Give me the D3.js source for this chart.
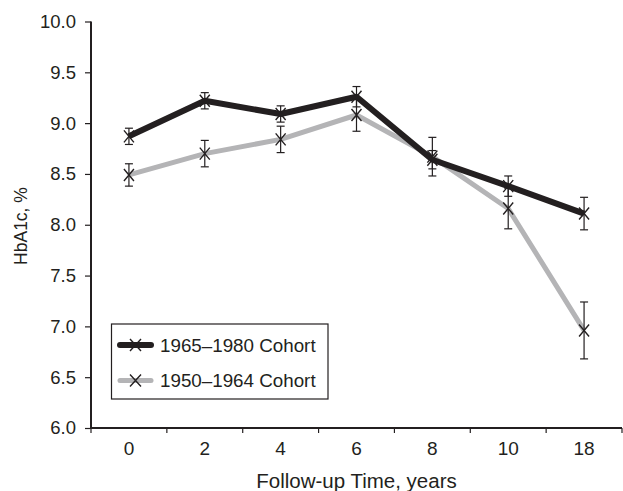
<!DOCTYPE html>
<html>
<head>
<meta charset="utf-8">
<script src="https://cdn.jsdelivr.net/npm/d3@7"></script>
<style>
  body { margin: 0; background: #fff; }
  text { font-family: "Liberation Sans", Arial, sans-serif; fill: #231f20; }
</style>
</head>
<body>
<div id="chart"></div>
<script>
var categories = ["0", "2", "4", "6", "8", "10", "18"];
var youngMean = [8.87, 9.22, 9.09, 9.26, 8.64, 8.38, 8.11];
var youngErr = [0.08, 0.08, 0.08, 0.10, 0.09, 0.10, 0.16];
var oldMean = [8.49, 8.70, 8.84, 9.08, 8.67, 8.16, 6.96];
var oldErr = [0.11, 0.13, 0.13, 0.16, 0.19, 0.20, 0.28];
var yTicks = [6.0, 6.5, 7.0, 7.5, 8.0, 8.5, 9.0, 9.5, 10.0];
var seriesNames = ["1965\u20131980 Cohort", "1950\u20131964 Cohort"];

var w = 623;
var h = 491;
var plotLeft = 91, plotRight = 622, plotTop = 21.5, plotBottom = 428;

var svg = d3.select("#chart").append("svg")
    .attr("width", w)
    .attr("height", h);

var x = d3.scaleBand().domain(categories).range([plotLeft, plotRight]);
var y = d3.scaleLinear().domain([6, 10]).range([plotBottom, plotTop]);

function cx(i) { return x(categories[i]) + x.bandwidth() / 2; }

// axes
var xAxis = svg.append("g")
    .attr("transform", "translate(0," + plotBottom + ")")
    .call(d3.axisBottom(x).tickSize(0).tickPadding(14));
xAxis.select(".domain").remove();
xAxis.selectAll("text").attr("font-size", "19px").attr("fill", "#231f20");
// ticks between categories
svg.append("g").selectAll("line")
    .data(categories.concat(["end"]))
    .enter().append("line")
    .attr("x1", function (d, i) { return plotLeft + i * x.bandwidth(); })
    .attr("x2", function (d, i) { return plotLeft + i * x.bandwidth(); })
    .attr("y1", plotBottom)
    .attr("y2", plotBottom + 5)
    .attr("stroke", "#231f20")
    .attr("stroke-width", 1.2);

var yAxis = svg.append("g")
    .attr("transform", "translate(" + plotLeft + ",0)")
    .call(d3.axisLeft(y).tickValues(yTicks).tickFormat(d3.format(".1f")).tickSize(6).tickPadding(9));
yAxis.select(".domain").remove();
yAxis.selectAll("line").attr("stroke", "#231f20").attr("stroke-width", 1.2);
yAxis.selectAll("text").attr("font-size", "18.5px").attr("fill", "#231f20");

svg.append("line")
    .attr("x1", plotLeft).attr("x2", plotLeft)
    .attr("y1", plotTop).attr("y2", plotBottom)
    .attr("stroke", "#231f20").attr("stroke-width", 2);
svg.append("line")
    .attr("x1", plotLeft).attr("x2", plotRight)
    .attr("y1", plotBottom).attr("y2", plotBottom)
    .attr("stroke", "#231f20").attr("stroke-width", 2);

svg.append("text")
    .attr("x", (plotLeft + plotRight) / 2)
    .attr("y", 488)
    .attr("text-anchor", "middle")
    .attr("font-size", "20.5px")
    .text("Follow-up Time, years");

svg.append("text")
    .attr("transform", "translate(27,226) rotate(-90)")
    .attr("text-anchor", "middle")
    .attr("font-size", "17.5px")
    .text("HbA1c, %");

var series = [
    { mean: youngMean, err: youngErr, color: "#231f20", width: 6 },
    { mean: oldMean, err: oldErr, color: "#b4b4b6", width: 5 }
];

var line = d3.line()
    .x(function (d, i) { return cx(i); })
    .y(function (d) { return y(d); });

// lines first, then error bars and markers
series.slice().reverse().forEach(function (s) {
    svg.append("path")
        .datum(s.mean)
        .attr("d", line)
        .attr("fill", "none")
        .attr("stroke", s.color)
        .attr("stroke-width", s.width)
        .attr("stroke-linejoin", "round");
});

series.forEach(function (s) {
    var g = svg.append("g").attr("stroke", "#231f20").attr("stroke-width", 1.2);
    s.mean.forEach(function (m, i) {
        var px = cx(i), hi = y(m + s.err[i]), lo = y(m - s.err[i]), py = y(m);
        g.append("line").attr("x1", px).attr("x2", px).attr("y1", hi).attr("y2", lo);
        g.append("line").attr("x1", px - 4).attr("x2", px + 4).attr("y1", hi).attr("y2", hi);
        g.append("line").attr("x1", px - 4).attr("x2", px + 4).attr("y1", lo).attr("y2", lo);
        g.append("path")
            .attr("d", "M" + (px - 5) + "," + (py - 6) + "L" + (px + 5) + "," + (py + 6) +
                "M" + (px + 5) + "," + (py - 6) + "L" + (px - 5) + "," + (py + 6))
            .attr("stroke-width", 1.4);
    });
});

// legend
var legend = svg.append("g");
legend.append("rect")
    .attr("x", 111.5).attr("y", 324)
    .attr("width", 216.5).attr("height", 75)
    .attr("fill", "#fff")
    .attr("stroke", "#231f20")
    .attr("stroke-width", 1.2);
series.forEach(function (s, i) {
    var ly = 345 + i * 35.5;
    legend.append("line")
        .attr("x1", 120).attr("x2", 151)
        .attr("y1", ly).attr("y2", ly)
        .attr("stroke", s.color)
        .attr("stroke-width", s.width)
        .attr("stroke-linecap", "round");
    legend.append("path")
        .attr("d", "M130,339L141,351M141,339L130,351")
        .attr("transform", "translate(0," + (ly - 345) + ")")
        .attr("stroke", "#231f20")
        .attr("stroke-width", 1.4);
    legend.append("text")
        .attr("x", 160)
        .attr("y", ly + 6.5)
        .attr("font-size", "18.8px")
        .text(seriesNames[i]);
});
</script>
</body>
</html>
